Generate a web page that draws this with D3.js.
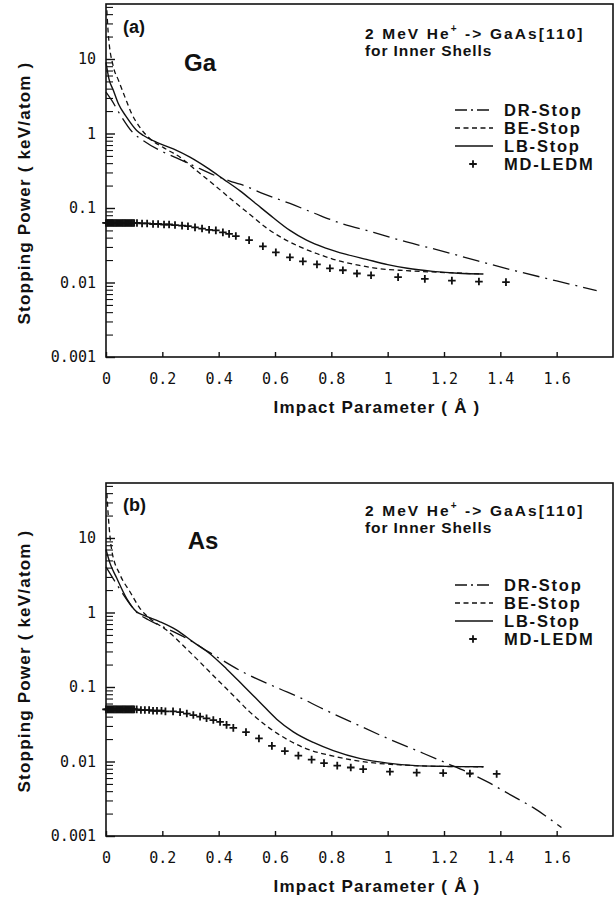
<!DOCTYPE html>
<html>
<head>
<meta charset="utf-8">
<script src="https://cdn.jsdelivr.net/npm/d3@7"></script>
<style>
  body { margin: 0; background: #fff; }
  svg text { font-family: "Liberation Sans", Arial, Helvetica, sans-serif; fill: #111; }
  .tick text { font-family: "DejaVu Sans Mono", monospace; font-size: 15px; font-weight: normal; }
</style>
</head>
<body>
<div id="chart"></div>
<script>
const W = 616, H = 904;
const MARGIN = { LEFT: 106, RIGHT: 3 };
const PLOT_H = 353;
const INK = "#111";

// axis ticks
const xTicks = [0, 0.2, 0.4, 0.6, 0.8, 1, 1.2, 1.4, 1.6];
const xTickLabels = ["0", "0.2", "0.4", "0.6", "0.8", "1", "1.2", "1.4", "1.6"];
const yTicks = [0.001, 0.01, 0.1, 1, 10];
const yTickLabels = ["0.001", "0.01", "0.1", "1", "10"];
const seriesNames = ["DR-Stop", "BE-Stop", "LB-Stop", "MD-LEDM"];

// (a) Ga
const gaDrX = [0, 0.02, 0.05, 0.095, 0.133, 0.192, 0.25, 0.31, 0.39, 0.44, 0.476, 0.56, 0.653, 0.74, 0.83, 0.95, 1.067, 1.2, 1.32, 1.458, 1.6, 1.742];
const gaDrY = [3.6, 2.8, 1.8, 1.03, 0.8, 0.59, 0.47, 0.37, 0.27, 0.23, 0.209, 0.155, 0.115, 0.085, 0.063, 0.047, 0.035, 0.026, 0.0195, 0.0142, 0.0105, 0.0078];
const gaBeX = [0.003, 0.008, 0.026, 0.044, 0.067, 0.091, 0.121, 0.156, 0.203, 0.263, 0.322, 0.381, 0.452, 0.511, 0.57, 0.629, 0.689, 0.748, 0.807, 0.9, 0.949, 1.067, 1.186, 1.34];
const gaBeY = [45, 22, 7.9, 5.2, 3.1, 1.85, 1.2, 0.85, 0.65, 0.48, 0.316, 0.209, 0.124, 0.082, 0.054, 0.039, 0.03, 0.0245, 0.0205, 0.017, 0.0157, 0.0144, 0.0137, 0.013];
const gaLbX = [0, 0.01, 0.026, 0.044, 0.073, 0.109, 0.133, 0.18, 0.239, 0.298, 0.357, 0.417, 0.476, 0.535, 0.594, 0.653, 0.712, 0.78, 0.85, 0.925, 1.0, 1.07, 1.16, 1.25, 1.338];
const gaLbY = [9, 5.5, 3.8, 2.5, 1.66, 1.1, 0.94, 0.76, 0.62, 0.48, 0.35, 0.244, 0.17, 0.112, 0.074, 0.05, 0.037, 0.029, 0.024, 0.0204, 0.0174, 0.0155, 0.0141, 0.0133, 0.013];
const gaMdX = [0, 0.004, 0.008, 0.012, 0.016, 0.02, 0.024, 0.028, 0.032, 0.036, 0.04, 0.044, 0.048, 0.052, 0.056, 0.06, 0.064, 0.068, 0.072, 0.076, 0.08, 0.084, 0.088, 0.092, 0.096, 0.1,
  0.11, 0.128, 0.146, 0.167, 0.185, 0.206, 0.224, 0.245, 0.27, 0.291, 0.316, 0.341, 0.366, 0.39, 0.415, 0.437, 0.461, 0.508, 0.557, 0.603, 0.653, 0.699, 0.749, 0.795, 0.841, 0.891, 0.941, 1.037, 1.132, 1.228, 1.324, 1.42];
const gaMdY = [0.063, 0.063, 0.063, 0.063, 0.063, 0.063, 0.063, 0.063, 0.063, 0.063, 0.063, 0.063, 0.063, 0.063, 0.063, 0.063, 0.063, 0.063, 0.063, 0.063, 0.063, 0.063, 0.063, 0.063, 0.063, 0.063,
  0.063, 0.062, 0.062, 0.061, 0.061, 0.06, 0.06, 0.059, 0.058, 0.057, 0.055, 0.053, 0.051, 0.05, 0.047, 0.045, 0.042, 0.037, 0.0306, 0.0254, 0.0218, 0.0192, 0.0175, 0.0155, 0.0146, 0.0132, 0.0125, 0.0118, 0.0112, 0.0106, 0.0103, 0.0101];

// (b) As
const asDrX = [0, 0.032, 0.073, 0.11, 0.15, 0.215, 0.286, 0.375, 0.487, 0.618, 0.689, 0.76, 0.878, 0.996, 1.126, 1.209, 1.28, 1.351, 1.446, 1.517, 1.617];
const asDrY = [4.1, 2.6, 1.5, 1.0, 0.8, 0.61, 0.45, 0.28, 0.158, 0.094, 0.072, 0.053, 0.033, 0.0207, 0.0129, 0.0095, 0.0073, 0.0054, 0.0034, 0.0024, 0.0013];
const asBeX = [0.003, 0.008, 0.02, 0.05, 0.085, 0.121, 0.156, 0.215, 0.274, 0.334, 0.393, 0.452, 0.511, 0.57, 0.641, 0.712, 0.807, 0.925, 1.044, 1.18, 1.34];
const asBeY = [40, 20, 7, 3.2, 1.9, 1.13, 0.83, 0.58, 0.36, 0.215, 0.128, 0.077, 0.046, 0.03, 0.02, 0.0148, 0.0118, 0.0098, 0.009, 0.0086, 0.0085];
const asLbX = [0, 0.014, 0.038, 0.073, 0.109, 0.133, 0.192, 0.251, 0.31, 0.369, 0.428, 0.487, 0.547, 0.606, 0.665, 0.736, 0.807, 0.9, 1.0, 1.1, 1.2, 1.34];
const asLbY = [7, 4.6, 2.9, 1.55, 1.02, 0.92, 0.75, 0.58, 0.4, 0.28, 0.175, 0.105, 0.062, 0.037, 0.025, 0.018, 0.014, 0.011, 0.0095, 0.0088, 0.0086, 0.0085];
const asMdX = [0, 0.004, 0.008, 0.012, 0.016, 0.02, 0.024, 0.028, 0.032, 0.036, 0.04, 0.044, 0.048, 0.052, 0.056, 0.06, 0.064, 0.068, 0.072, 0.076, 0.08, 0.084, 0.088, 0.092, 0.096, 0.1,
  0.109, 0.124, 0.138, 0.153, 0.167, 0.181, 0.197, 0.211, 0.238, 0.263, 0.287, 0.31, 0.334, 0.357, 0.381, 0.405, 0.428, 0.452, 0.497, 0.543, 0.589, 0.635, 0.683, 0.73, 0.774, 0.821, 0.869, 0.913, 1.008, 1.103, 1.197, 1.292, 1.387];
const asMdY = [0.05, 0.05, 0.05, 0.05, 0.05, 0.05, 0.05, 0.05, 0.05, 0.05, 0.05, 0.05, 0.05, 0.05, 0.05, 0.05, 0.05, 0.05, 0.05, 0.05, 0.05, 0.05, 0.05, 0.05, 0.05, 0.05,
  0.05, 0.049, 0.049, 0.049, 0.048, 0.048, 0.048, 0.047, 0.047, 0.046, 0.044, 0.042, 0.04, 0.038, 0.036, 0.034, 0.031, 0.0283, 0.0248, 0.0204, 0.0162, 0.0138, 0.012, 0.0106, 0.0095, 0.0088, 0.0083, 0.0079, 0.0073, 0.0071, 0.007, 0.0069, 0.0068];

const panels = [
  { top: 4, tag: "(a)", atom: "Ga", dr: [gaDrX, gaDrY], be: [gaBeX, gaBeY], lb: [gaLbX, gaLbY], md: [gaMdX, gaMdY],
    tagY: 23, atomX: 200, atomY: 58, noteY: 29, legendY: 106, yTitleY: 189 },
  { top: 483, tag: "(b)", atom: "As", dr: [asDrX, asDrY], be: [asBeX, asBeY], lb: [asLbX, asLbY], md: [asMdX, asMdY],
    tagY: 22, atomX: 203, atomY: 57, noteY: 27, legendY: 102, yTitleY: 178 }
];

const svg = d3.select("#chart").append("svg")
  .attr("width", W).attr("height", H)
  .style("display", "block");

const xScale = d3.scaleLinear().domain([0, 1.8]).range([MARGIN.LEFT, W - MARGIN.RIGHT]);
const yScale = d3.scaleLog().domain([0.001, 54.7]).range([PLOT_H, 0]);

// minor ticks 2..9 in each decade
const minorTicks = [];
[0.001, 0.01, 0.1, 1, 10].forEach(d => {
  for (let k = 2; k <= 9; k++) if (d * k <= yScale.domain()[1]) minorTicks.push(d * k);
});

const styles = {
  dr: { dash: "17,6,2,6", width: 1.3 },
  be: { dash: "5,3.5", width: 1.3 },
  lb: { dash: null, width: 1.4 }
};

const line = d3.line()
  .x(d => xScale(d[0]))
  .y(d => yScale(d[1]))
  .curve(d3.curveMonotoneX);

function cross(g, cx, cy, s) {
  g.append("path")
    .attr("d", `M${cx - s},${cy}H${cx + s}M${cx},${cy - s}V${cy + s}`)
    .attr("stroke", INK).attr("stroke-width", 1.8).attr("fill", "none");
}

panels.forEach(p => {
  const g = svg.append("g").attr("transform", `translate(0, ${p.top})`);

  // frame
  g.append("rect")
    .attr("x", MARGIN.LEFT).attr("y", 0)
    .attr("width", W - MARGIN.RIGHT - MARGIN.LEFT).attr("height", PLOT_H)
    .attr("fill", "none").attr("stroke", INK).attr("stroke-width", 1.6);

  // x axis
  const xAxisGroup = g.append("g").attr("transform", `translate(0, ${PLOT_H})`)
    .call(d3.axisBottom(xScale).tickValues(xTicks).tickSize(-5)
      .tickFormat((d, i) => xTickLabels[i]));
  xAxisGroup.select(".domain").remove();
  xAxisGroup.selectAll(".tick line").attr("stroke", INK).attr("stroke-width", 1.4);
  xAxisGroup.selectAll(".tick text").attr("fill", INK).attr("y", 22).attr("dy", "0.35em");

  // y axis, major
  const yAxisGroup = g.append("g").attr("transform", `translate(${MARGIN.LEFT}, 0)`)
    .call(d3.axisLeft(yScale).tickValues(yTicks).tickSize(-9).tickPadding(10)
      .tickFormat((d, i) => yTickLabels[i]));
  yAxisGroup.select(".domain").remove();
  yAxisGroup.selectAll(".tick line").attr("stroke", INK).attr("stroke-width", 1.4);
  yAxisGroup.selectAll(".tick text").attr("fill", INK);

  // y axis, minor
  const yMinorGroup = g.append("g").attr("transform", `translate(${MARGIN.LEFT}, 0)`)
    .call(d3.axisLeft(yScale).tickValues(minorTicks).tickSize(-7).tickFormat(""));
  yMinorGroup.select(".domain").remove();
  yMinorGroup.selectAll(".tick line").attr("stroke", INK).attr("stroke-width", 1.1);

  // curves
  ["dr", "be", "lb"].forEach(key => {
    const pts = p[key][0].map((x, i) => [x, p[key][1][i]]);
    g.append("path")
      .datum(pts)
      .attr("d", line)
      .attr("fill", "none")
      .attr("stroke", INK)
      .attr("stroke-width", styles[key].width)
      .attr("stroke-dasharray", styles[key].dash);
  });

  // MD-LEDM crosses
  const mdG = g.append("g");
  p.md[0].forEach((x, i) => cross(mdG, xScale(x), yScale(p.md[1][i]), 3.8));

  // panel texts
  g.append("text").attr("x", 123).attr("y", p.tagY)
    .attr("dominant-baseline", "central")
    .style("font-size", "18px").style("font-weight", "bold").text(p.tag);
  g.append("text").attr("x", p.atomX).attr("y", p.atomY)
    .attr("text-anchor", "middle").attr("dominant-baseline", "central")
    .style("font-size", "24px").style("font-weight", "bold").text(p.atom);

  const note = g.append("text").attr("x", 365).attr("y", p.noteY)
    .attr("dominant-baseline", "central")
    .style("font-size", "15.5px").style("font-weight", "bold").style("letter-spacing", "2.1px");
  note.append("tspan").text("2 MeV He");
  note.append("tspan").attr("dy", -5).style("font-size", "10px").text("+");
  note.append("tspan").attr("dy", 5).text(" -> GaAs[110]");
  g.append("text").attr("x", 365).attr("y", p.noteY + 17)
    .attr("dominant-baseline", "central")
    .style("font-size", "15.5px").style("font-weight", "bold").style("letter-spacing", "0.9px")
    .text("for Inner Shells");

  // legend
  const legend = g.append("g");
  seriesNames.forEach((name, i) => {
    const ly = p.legendY + i * 18;
    const key = ["dr", "be", "lb", "md"][i];
    if (key === "md") {
      cross(legend, 473, ly, 3.8);
    } else {
      legend.append("line")
        .attr("x1", 455).attr("x2", 493).attr("y1", ly).attr("y2", ly)
        .attr("stroke", INK).attr("stroke-width", styles[key].width)
        .attr("stroke-dasharray", key === "dr" ? "12,4,2,4" : styles[key].dash);
    }
    legend.append("text").attr("x", 504).attr("y", ly)
      .attr("dominant-baseline", "central")
      .style("font-size", "16.5px").style("font-weight", "bold").style("letter-spacing", "1.8px")
      .text(name);
  });

  // axis titles
  g.append("text")
    .attr("transform", `translate(24, ${p.yTitleY}) rotate(-90)`)
    .attr("text-anchor", "middle").attr("dominant-baseline", "central")
    .style("font-size", "17px").style("font-weight", "bold").style("letter-spacing", "1.2px")
    .text("Stopping Power ( keV/atom )");
  g.append("text")
    .attr("x", 377).attr("y", 403)
    .attr("text-anchor", "middle").attr("dominant-baseline", "central")
    .style("font-size", "17px").style("font-weight", "bold").style("letter-spacing", "1.2px")
    .text("Impact Parameter ( Å )");
});
</script>
</body>
</html>
